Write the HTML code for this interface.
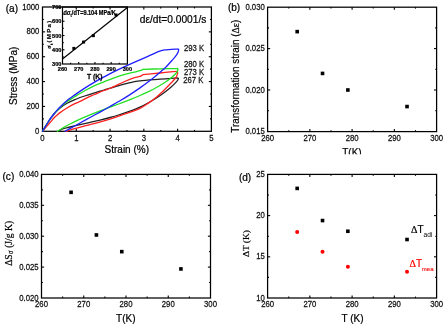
<!DOCTYPE html>
<html><head><meta charset="utf-8"><style>
html,body{margin:0;padding:0;background:#fff;}
body{width:445px;height:326px;overflow:hidden;}
svg{display:block;will-change:transform;}
</style></head><body>
<svg width="445" height="326" viewBox="0 0 445 326">
<rect width="445" height="326" fill="#fff"/>
<line x1="76.28" y1="131.30" x2="76.28" y2="128.70" stroke="#000" stroke-width="1.1"/>
<line x1="76.28" y1="7.00" x2="76.28" y2="9.60" stroke="#000" stroke-width="1.1"/>
<line x1="110.06" y1="131.30" x2="110.06" y2="128.70" stroke="#000" stroke-width="1.1"/>
<line x1="110.06" y1="7.00" x2="110.06" y2="9.60" stroke="#000" stroke-width="1.1"/>
<line x1="143.84" y1="131.30" x2="143.84" y2="128.70" stroke="#000" stroke-width="1.1"/>
<line x1="143.84" y1="7.00" x2="143.84" y2="9.60" stroke="#000" stroke-width="1.1"/>
<line x1="177.62" y1="131.30" x2="177.62" y2="128.70" stroke="#000" stroke-width="1.1"/>
<line x1="177.62" y1="7.00" x2="177.62" y2="9.60" stroke="#000" stroke-width="1.1"/>
<line x1="59.39" y1="131.30" x2="59.39" y2="129.90" stroke="#000" stroke-width="1.1"/>
<line x1="59.39" y1="7.00" x2="59.39" y2="8.40" stroke="#000" stroke-width="1.1"/>
<line x1="93.17" y1="131.30" x2="93.17" y2="129.90" stroke="#000" stroke-width="1.1"/>
<line x1="93.17" y1="7.00" x2="93.17" y2="8.40" stroke="#000" stroke-width="1.1"/>
<line x1="126.95" y1="131.30" x2="126.95" y2="129.90" stroke="#000" stroke-width="1.1"/>
<line x1="126.95" y1="7.00" x2="126.95" y2="8.40" stroke="#000" stroke-width="1.1"/>
<line x1="160.73" y1="131.30" x2="160.73" y2="129.90" stroke="#000" stroke-width="1.1"/>
<line x1="160.73" y1="7.00" x2="160.73" y2="8.40" stroke="#000" stroke-width="1.1"/>
<line x1="194.51" y1="131.30" x2="194.51" y2="129.90" stroke="#000" stroke-width="1.1"/>
<line x1="194.51" y1="7.00" x2="194.51" y2="8.40" stroke="#000" stroke-width="1.1"/>
<line x1="42.50" y1="106.44" x2="45.10" y2="106.44" stroke="#000" stroke-width="1.1"/>
<line x1="211.40" y1="106.44" x2="208.80" y2="106.44" stroke="#000" stroke-width="1.1"/>
<line x1="42.50" y1="81.58" x2="45.10" y2="81.58" stroke="#000" stroke-width="1.1"/>
<line x1="211.40" y1="81.58" x2="208.80" y2="81.58" stroke="#000" stroke-width="1.1"/>
<line x1="42.50" y1="56.72" x2="45.10" y2="56.72" stroke="#000" stroke-width="1.1"/>
<line x1="211.40" y1="56.72" x2="208.80" y2="56.72" stroke="#000" stroke-width="1.1"/>
<line x1="42.50" y1="31.86" x2="45.10" y2="31.86" stroke="#000" stroke-width="1.1"/>
<line x1="211.40" y1="31.86" x2="208.80" y2="31.86" stroke="#000" stroke-width="1.1"/>
<line x1="42.50" y1="118.87" x2="43.90" y2="118.87" stroke="#000" stroke-width="1.1"/>
<line x1="211.40" y1="118.87" x2="210.00" y2="118.87" stroke="#000" stroke-width="1.1"/>
<line x1="42.50" y1="94.01" x2="43.90" y2="94.01" stroke="#000" stroke-width="1.1"/>
<line x1="211.40" y1="94.01" x2="210.00" y2="94.01" stroke="#000" stroke-width="1.1"/>
<line x1="42.50" y1="69.15" x2="43.90" y2="69.15" stroke="#000" stroke-width="1.1"/>
<line x1="211.40" y1="69.15" x2="210.00" y2="69.15" stroke="#000" stroke-width="1.1"/>
<line x1="42.50" y1="44.29" x2="43.90" y2="44.29" stroke="#000" stroke-width="1.1"/>
<line x1="211.40" y1="44.29" x2="210.00" y2="44.29" stroke="#000" stroke-width="1.1"/>
<line x1="42.50" y1="19.43" x2="43.90" y2="19.43" stroke="#000" stroke-width="1.1"/>
<line x1="211.40" y1="19.43" x2="210.00" y2="19.43" stroke="#000" stroke-width="1.1"/>
<rect x="42.50" y="7.00" width="168.90" height="124.30" fill="none" stroke="#000" stroke-width="1.25"/>
<text transform="translate(42.50,141.00) scale(1.0,1.15)" font-size="7.75" text-anchor="middle" font-weight="normal" fill="#111" font-family='"Liberation Sans", sans-serif'  stroke="#111" stroke-width="0.22">0</text>
<text transform="translate(76.28,141.00) scale(1.0,1.15)" font-size="7.75" text-anchor="middle" font-weight="normal" fill="#111" font-family='"Liberation Sans", sans-serif'  stroke="#111" stroke-width="0.22">1</text>
<text transform="translate(110.06,141.00) scale(1.0,1.15)" font-size="7.75" text-anchor="middle" font-weight="normal" fill="#111" font-family='"Liberation Sans", sans-serif'  stroke="#111" stroke-width="0.22">2</text>
<text transform="translate(143.84,141.00) scale(1.0,1.15)" font-size="7.75" text-anchor="middle" font-weight="normal" fill="#111" font-family='"Liberation Sans", sans-serif'  stroke="#111" stroke-width="0.22">3</text>
<text transform="translate(177.62,141.00) scale(1.0,1.15)" font-size="7.75" text-anchor="middle" font-weight="normal" fill="#111" font-family='"Liberation Sans", sans-serif'  stroke="#111" stroke-width="0.22">4</text>
<text transform="translate(211.40,141.00) scale(1.0,1.15)" font-size="7.75" text-anchor="middle" font-weight="normal" fill="#111" font-family='"Liberation Sans", sans-serif'  stroke="#111" stroke-width="0.22">5</text>
<text transform="translate(39.40,133.80) scale(1.0,1.15)" font-size="7.75" text-anchor="end" font-weight="normal" fill="#111" font-family='"Liberation Sans", sans-serif'  stroke="#111" stroke-width="0.22">0</text>
<text transform="translate(39.40,108.94) scale(1.0,1.15)" font-size="7.75" text-anchor="end" font-weight="normal" fill="#111" font-family='"Liberation Sans", sans-serif'  stroke="#111" stroke-width="0.22">200</text>
<text transform="translate(39.40,84.08) scale(1.0,1.15)" font-size="7.75" text-anchor="end" font-weight="normal" fill="#111" font-family='"Liberation Sans", sans-serif'  stroke="#111" stroke-width="0.22">400</text>
<text transform="translate(39.40,59.22) scale(1.0,1.15)" font-size="7.75" text-anchor="end" font-weight="normal" fill="#111" font-family='"Liberation Sans", sans-serif'  stroke="#111" stroke-width="0.22">600</text>
<text transform="translate(39.40,34.36) scale(1.0,1.15)" font-size="7.75" text-anchor="end" font-weight="normal" fill="#111" font-family='"Liberation Sans", sans-serif'  stroke="#111" stroke-width="0.22">800</text>
<text transform="translate(39.40,9.50) scale(1.0,1.15)" font-size="7.75" text-anchor="end" font-weight="normal" fill="#111" font-family='"Liberation Sans", sans-serif'  stroke="#111" stroke-width="0.22">1000</text>
<text x="126.80" y="152.60" font-size="10" text-anchor="middle" font-weight="normal" fill="#000" font-family='"Liberation Sans", sans-serif'  stroke="#000" stroke-width="0.22">Strain (%)</text>
<text stroke="#000" stroke-width="0.2" transform="translate(16.9,75.8) rotate(-90)" x="0" y="0" font-size="10" text-anchor="middle" font-family='"Liberation Sans", sans-serif'>Stress (MPa)</text>
<text transform="translate(5.70,11.60) scale(1.0,1.08)" font-size="10.1" text-anchor="start" font-weight="normal" fill="#000" font-family='"Liberation Sans", sans-serif'  stroke="#000" stroke-width="0.22">(a)</text>
<text transform="translate(139.80,22.80) scale(1.0,1.12)" font-size="10.2" text-anchor="start" font-weight="normal" fill="#000" font-family='"Liberation Sans", sans-serif'  stroke="#000" stroke-width="0.22">d&#949;/dt=0.0001/s</text>
<text transform="translate(184.00,51.40) scale(1.0,1.18)" font-size="7.7" text-anchor="start" font-weight="normal" fill="#111" font-family='"Liberation Sans", sans-serif'  stroke="#111" stroke-width="0.22">293 K</text>
<text transform="translate(184.00,67.00) scale(1.0,1.18)" font-size="7.7" text-anchor="start" font-weight="normal" fill="#111" font-family='"Liberation Sans", sans-serif'  stroke="#111" stroke-width="0.22">280 K</text>
<text transform="translate(184.00,74.60) scale(1.0,1.18)" font-size="7.7" text-anchor="start" font-weight="normal" fill="#111" font-family='"Liberation Sans", sans-serif'  stroke="#111" stroke-width="0.22">273 K</text>
<text transform="translate(183.30,82.60) scale(1.0,1.18)" font-size="7.7" text-anchor="start" font-weight="normal" fill="#111" font-family='"Liberation Sans", sans-serif'  stroke="#111" stroke-width="0.22">267 K</text>
<path d="M42.50,131.30 C42.82,130.78 43.77,129.25 44.40,128.20 C45.03,127.15 45.62,126.12 46.30,125.00 C46.98,123.88 47.75,122.63 48.50,121.50 C49.25,120.37 49.77,119.58 50.80,118.20 C51.83,116.82 53.25,114.83 54.70,113.20 C56.15,111.57 57.45,110.05 59.50,108.40 C61.55,106.75 64.45,104.77 67.00,103.30 C69.55,101.83 71.85,100.82 74.80,99.60 C77.75,98.38 81.40,97.13 84.70,96.00 C88.00,94.87 91.38,93.80 94.60,92.80 C97.82,91.80 99.80,91.25 104.00,90.00 C108.20,88.75 115.47,86.53 119.80,85.30 C124.13,84.07 126.63,83.35 130.00,82.60 C133.37,81.85 135.00,81.37 140.00,80.80 C145.00,80.23 153.77,79.68 160.00,79.20 C166.23,78.72 174.50,78.12 177.40,77.90 M177.40,77.90 C177.57,78.07 178.68,78.12 178.40,78.90 C178.12,79.68 177.10,81.08 175.70,82.60 C174.30,84.12 171.95,86.32 170.00,88.00 C168.05,89.68 166.33,90.98 164.00,92.70 C161.67,94.42 158.67,96.58 156.00,98.30 C153.33,100.02 150.67,101.53 148.00,103.00 C145.33,104.47 143.00,105.73 140.00,107.10 C137.00,108.47 133.33,109.97 130.00,111.20 C126.67,112.43 123.33,113.45 120.00,114.50 C116.67,115.55 113.33,116.57 110.00,117.50 C106.67,118.43 103.33,119.28 100.00,120.10 C96.67,120.92 93.33,121.65 90.00,122.40 C86.67,123.15 83.33,123.83 80.00,124.60 C76.67,125.37 73.00,126.25 70.00,127.00 C67.00,127.75 63.88,128.38 62.00,129.10 C60.12,129.82 59.25,130.93 58.70,131.30" fill="none" stroke="#222" stroke-width="1.3" stroke-linejoin="round" stroke-linecap="round"/>
<path d="M42.50,131.30 C42.92,130.82 44.08,129.47 45.00,128.40 C45.92,127.33 47.02,126.03 48.00,124.90 C48.98,123.77 49.95,122.70 50.90,121.60 C51.85,120.50 52.72,119.35 53.70,118.30 C54.68,117.25 55.73,116.25 56.80,115.30 C57.87,114.35 58.40,113.82 60.10,112.60 C61.80,111.38 64.55,109.48 67.00,108.00 C69.45,106.52 72.53,104.83 74.80,103.70 C77.07,102.57 78.58,102.18 80.60,101.20 C82.62,100.22 84.57,98.92 86.90,97.80 C89.23,96.68 91.75,95.72 94.60,94.50 C97.45,93.28 101.28,91.58 104.00,90.50 C106.72,89.42 107.45,89.50 110.90,88.00 C114.35,86.50 121.02,83.13 124.70,81.50 C128.38,79.87 130.45,79.05 133.00,78.20 C135.55,77.35 138.33,77.00 140.00,76.40 C141.67,75.80 142.50,74.90 143.00,74.60 M143.00,74.60 C145.83,74.33 154.57,73.53 160.00,73.00 C165.43,72.47 173.00,71.67 175.60,71.40 M175.60,71.40 C175.93,71.53 177.47,71.28 177.60,72.20 C177.73,73.12 177.42,75.18 176.40,76.90 C175.38,78.62 173.57,80.28 171.50,82.50 C169.43,84.72 166.58,87.72 164.00,90.20 C161.42,92.68 158.67,95.20 156.00,97.40 C153.33,99.60 150.67,101.57 148.00,103.40 C145.33,105.23 142.83,106.98 140.00,108.40 C137.17,109.82 133.93,110.82 131.00,111.90 C128.07,112.98 125.40,113.87 122.40,114.90 C119.40,115.93 116.07,117.10 113.00,118.10 C109.93,119.10 107.17,119.97 104.00,120.90 C100.83,121.83 97.33,122.82 94.00,123.70 C90.67,124.58 87.03,125.42 84.00,126.20 C80.97,126.98 78.80,127.55 75.80,128.40 C72.80,129.25 67.63,130.82 66.00,131.30" fill="none" stroke="#ff2020" stroke-width="1.3" stroke-linejoin="round" stroke-linecap="round"/>
<path d="M42.50,131.30 C42.82,130.78 43.77,129.25 44.40,128.20 C45.03,127.15 45.62,126.12 46.30,125.00 C46.98,123.88 47.75,122.65 48.50,121.50 C49.25,120.35 49.77,119.50 50.80,118.10 C51.83,116.70 53.25,114.75 54.70,113.10 C56.15,111.45 57.45,110.12 59.50,108.20 C61.55,106.28 64.45,103.52 67.00,101.60 C69.55,99.68 71.85,98.50 74.80,96.70 C77.75,94.90 81.40,92.65 84.70,90.80 C88.00,88.95 91.38,87.10 94.60,85.60 C97.82,84.10 99.80,83.43 104.00,81.80 C108.20,80.17 114.97,77.37 119.80,75.80 C124.63,74.23 129.63,73.25 133.00,72.40 C136.37,71.55 138.33,71.22 140.00,70.70 C141.67,70.18 142.50,69.53 143.00,69.30 M143.00,69.30 C145.83,69.22 154.27,68.97 160.00,68.80 C165.73,68.63 174.50,68.38 177.40,68.30 M177.40,68.30 C177.50,68.50 178.27,68.63 178.00,69.50 C177.73,70.37 177.02,72.05 175.80,73.50 C174.58,74.95 172.67,76.62 170.70,78.20 C168.73,79.78 166.45,81.42 164.00,83.00 C161.55,84.58 158.67,86.23 156.00,87.70 C153.33,89.17 150.67,90.50 148.00,91.80 C145.33,93.10 143.00,94.18 140.00,95.50 C137.00,96.82 133.33,98.37 130.00,99.70 C126.67,101.03 123.33,102.25 120.00,103.50 C116.67,104.75 113.33,105.97 110.00,107.20 C106.67,108.43 103.33,109.63 100.00,110.90 C96.67,112.17 93.33,113.43 90.00,114.80 C86.67,116.17 83.33,117.57 80.00,119.10 C76.67,120.63 72.67,122.63 70.00,124.00 C67.33,125.37 65.67,126.35 64.00,127.30 C62.33,128.25 61.12,129.03 60.00,129.70 C58.88,130.37 57.75,131.03 57.30,131.30" fill="none" stroke="#22e022" stroke-width="1.3" stroke-linejoin="round" stroke-linecap="round"/>
<path d="M42.50,131.30 C42.82,130.78 43.77,129.25 44.40,128.20 C45.03,127.15 45.62,126.12 46.30,125.00 C46.98,123.88 47.75,122.67 48.50,121.50 C49.25,120.33 49.77,119.42 50.80,118.00 C51.83,116.58 53.28,114.70 54.70,113.00 C56.12,111.30 57.25,109.88 59.30,107.80 C61.35,105.72 64.68,102.47 67.00,100.50 C69.32,98.53 71.37,97.32 73.20,96.00 C75.03,94.68 76.08,93.92 78.00,92.60 C79.92,91.28 81.93,89.85 84.70,88.10 C87.47,86.35 91.38,83.97 94.60,82.10 C97.82,80.23 99.80,79.10 104.00,76.90 C108.20,74.70 113.80,71.75 119.80,68.90 C125.80,66.05 134.98,62.05 140.00,59.80 C145.02,57.55 146.77,56.80 149.90,55.40 C153.03,54.00 157.32,52.07 158.80,51.40 M158.80,51.40 C159.78,51.15 161.48,50.32 164.70,49.90 C167.92,49.48 175.87,49.07 178.10,48.90 M178.10,48.90 C178.20,49.15 178.95,49.40 178.70,50.40 C178.45,51.40 177.77,53.17 176.60,54.90 C175.43,56.63 173.47,58.78 171.70,60.80 C169.93,62.82 167.62,65.37 166.00,67.00 C164.38,68.63 163.67,69.13 162.00,70.60 C160.33,72.07 158.33,73.88 156.00,75.80 C153.67,77.72 150.67,80.08 148.00,82.10 C145.33,84.12 143.00,85.82 140.00,87.90 C137.00,89.98 133.33,92.45 130.00,94.60 C126.67,96.75 123.33,98.82 120.00,100.80 C116.67,102.78 113.33,104.62 110.00,106.50 C106.67,108.38 103.33,110.27 100.00,112.10 C96.67,113.93 93.33,115.68 90.00,117.50 C86.67,119.32 83.00,121.33 80.00,123.00 C77.00,124.67 74.50,126.12 72.00,127.50 C69.50,128.88 66.17,130.67 65.00,131.30" fill="none" stroke="#1f1fff" stroke-width="1.3" stroke-linejoin="round" stroke-linecap="round"/>
<line x1="78.72" y1="64.00" x2="78.72" y2="62.00" stroke="#000" stroke-width="1.1"/>
<line x1="94.95" y1="64.00" x2="94.95" y2="62.00" stroke="#000" stroke-width="1.1"/>
<line x1="111.18" y1="64.00" x2="111.18" y2="62.00" stroke="#000" stroke-width="1.1"/>
<line x1="70.61" y1="64.00" x2="70.61" y2="62.80" stroke="#000" stroke-width="1.1"/>
<line x1="86.84" y1="64.00" x2="86.84" y2="62.80" stroke="#000" stroke-width="1.1"/>
<line x1="103.06" y1="64.00" x2="103.06" y2="62.80" stroke="#000" stroke-width="1.1"/>
<line x1="119.29" y1="64.00" x2="119.29" y2="62.80" stroke="#000" stroke-width="1.1"/>
<line x1="62.50" y1="49.75" x2="64.50" y2="49.75" stroke="#000" stroke-width="1.1"/>
<line x1="62.50" y1="35.50" x2="64.50" y2="35.50" stroke="#000" stroke-width="1.1"/>
<line x1="62.50" y1="21.25" x2="64.50" y2="21.25" stroke="#000" stroke-width="1.1"/>
<line x1="62.50" y1="56.88" x2="63.70" y2="56.88" stroke="#000" stroke-width="1.1"/>
<line x1="62.50" y1="42.62" x2="63.70" y2="42.62" stroke="#000" stroke-width="1.1"/>
<line x1="62.50" y1="28.38" x2="63.70" y2="28.38" stroke="#000" stroke-width="1.1"/>
<line x1="62.50" y1="14.12" x2="63.70" y2="14.12" stroke="#000" stroke-width="1.1"/>
<rect x="62.50" y="7.00" width="64.90" height="57.00" fill="none" stroke="#000" stroke-width="1.2"/>
<text transform="translate(62.50,70.70) scale(1.0,1.1)" font-size="5.6" text-anchor="middle" font-weight="bold" fill="#000" font-family='"Liberation Sans", sans-serif'  stroke="#000" stroke-width="0.22">260</text>
<text transform="translate(78.72,70.70) scale(1.0,1.1)" font-size="5.6" text-anchor="middle" font-weight="bold" fill="#000" font-family='"Liberation Sans", sans-serif'  stroke="#000" stroke-width="0.22">270</text>
<text transform="translate(94.95,70.70) scale(1.0,1.1)" font-size="5.6" text-anchor="middle" font-weight="bold" fill="#000" font-family='"Liberation Sans", sans-serif'  stroke="#000" stroke-width="0.22">280</text>
<text transform="translate(111.18,70.70) scale(1.0,1.1)" font-size="5.6" text-anchor="middle" font-weight="bold" fill="#000" font-family='"Liberation Sans", sans-serif'  stroke="#000" stroke-width="0.22">290</text>
<text transform="translate(127.40,70.70) scale(1.0,1.1)" font-size="5.6" text-anchor="middle" font-weight="bold" fill="#000" font-family='"Liberation Sans", sans-serif'  stroke="#000" stroke-width="0.22">300</text>
<text transform="translate(61.40,66.20) scale(1.0,1.1)" font-size="5.6" text-anchor="end" font-weight="bold" fill="#000" font-family='"Liberation Sans", sans-serif'  stroke="#000" stroke-width="0.22">300</text>
<text transform="translate(61.40,51.95) scale(1.0,1.1)" font-size="5.6" text-anchor="end" font-weight="bold" fill="#000" font-family='"Liberation Sans", sans-serif'  stroke="#000" stroke-width="0.22">400</text>
<text transform="translate(61.40,37.70) scale(1.0,1.1)" font-size="5.6" text-anchor="end" font-weight="bold" fill="#000" font-family='"Liberation Sans", sans-serif'  stroke="#000" stroke-width="0.22">500</text>
<text transform="translate(61.40,23.45) scale(1.0,1.1)" font-size="5.6" text-anchor="end" font-weight="bold" fill="#000" font-family='"Liberation Sans", sans-serif'  stroke="#000" stroke-width="0.22">600</text>
<text transform="translate(61.40,9.20) scale(1.0,1.1)" font-size="5.6" text-anchor="end" font-weight="bold" fill="#000" font-family='"Liberation Sans", sans-serif'  stroke="#000" stroke-width="0.22">700</text>
<text transform="translate(94.80,78.50) scale(1.0,1.15)" font-size="6.8" text-anchor="middle" font-weight="bold" fill="#000" font-family='"Liberation Sans", sans-serif'  stroke="#000" stroke-width="0.22">T (K)</text>
<text stroke="#000" stroke-width="0.2" transform="translate(51.2,48.8) rotate(-90)" font-size="6.1" letter-spacing="1.3" font-weight="bold" font-family='"Liberation Sans", sans-serif'><tspan font-family='"Liberation Serif", serif' letter-spacing="0.5">&#963;</tspan><tspan font-size="4.2" dy="1.3" letter-spacing="0.2">t</tspan><tspan dy="-1.3" dx="0.9">(MPa)</tspan></text>
<text stroke="#000" stroke-width="0.2" transform="translate(63.4,15.3) scale(0.95,1.15)" font-size="5.85" font-weight="bold" font-family='"Liberation Sans", sans-serif'>d&#963;<tspan font-size="4" dy="1.5">t</tspan><tspan dy="-1.5">/dT=9.104 MPa/K</tspan></text>
<line x1="62.50" y1="59.00" x2="127.40" y2="7.50" stroke="#000" stroke-width="1.2"/>
<rect x="72.36" y="46.90" width="3.0" height="3.0" fill="#000"/>
<rect x="82.09" y="40.55" width="3.0" height="3.0" fill="#000"/>
<rect x="91.83" y="34.14" width="3.0" height="3.0" fill="#000"/>
<rect x="114.54" y="13.48" width="3.0" height="3.0" fill="#000"/>
<line x1="309.85" y1="131.60" x2="309.85" y2="129.00" stroke="#000" stroke-width="1.1"/>
<line x1="309.85" y1="7.20" x2="309.85" y2="9.80" stroke="#000" stroke-width="1.1"/>
<line x1="352.10" y1="131.60" x2="352.10" y2="129.00" stroke="#000" stroke-width="1.1"/>
<line x1="352.10" y1="7.20" x2="352.10" y2="9.80" stroke="#000" stroke-width="1.1"/>
<line x1="394.35" y1="131.60" x2="394.35" y2="129.00" stroke="#000" stroke-width="1.1"/>
<line x1="394.35" y1="7.20" x2="394.35" y2="9.80" stroke="#000" stroke-width="1.1"/>
<line x1="288.73" y1="131.60" x2="288.73" y2="130.20" stroke="#000" stroke-width="1.1"/>
<line x1="288.73" y1="7.20" x2="288.73" y2="8.60" stroke="#000" stroke-width="1.1"/>
<line x1="330.98" y1="131.60" x2="330.98" y2="130.20" stroke="#000" stroke-width="1.1"/>
<line x1="330.98" y1="7.20" x2="330.98" y2="8.60" stroke="#000" stroke-width="1.1"/>
<line x1="373.23" y1="131.60" x2="373.23" y2="130.20" stroke="#000" stroke-width="1.1"/>
<line x1="373.23" y1="7.20" x2="373.23" y2="8.60" stroke="#000" stroke-width="1.1"/>
<line x1="415.48" y1="131.60" x2="415.48" y2="130.20" stroke="#000" stroke-width="1.1"/>
<line x1="415.48" y1="7.20" x2="415.48" y2="8.60" stroke="#000" stroke-width="1.1"/>
<line x1="267.60" y1="90.00" x2="270.20" y2="90.00" stroke="#000" stroke-width="1.1"/>
<line x1="436.60" y1="90.00" x2="434.00" y2="90.00" stroke="#000" stroke-width="1.1"/>
<line x1="267.60" y1="48.60" x2="270.20" y2="48.60" stroke="#000" stroke-width="1.1"/>
<line x1="436.60" y1="48.60" x2="434.00" y2="48.60" stroke="#000" stroke-width="1.1"/>
<line x1="267.60" y1="110.70" x2="269.00" y2="110.70" stroke="#000" stroke-width="1.1"/>
<line x1="436.60" y1="110.70" x2="435.20" y2="110.70" stroke="#000" stroke-width="1.1"/>
<line x1="267.60" y1="69.30" x2="269.00" y2="69.30" stroke="#000" stroke-width="1.1"/>
<line x1="436.60" y1="69.30" x2="435.20" y2="69.30" stroke="#000" stroke-width="1.1"/>
<line x1="267.60" y1="27.90" x2="269.00" y2="27.90" stroke="#000" stroke-width="1.1"/>
<line x1="436.60" y1="27.90" x2="435.20" y2="27.90" stroke="#000" stroke-width="1.1"/>
<rect x="267.60" y="7.20" width="169.00" height="124.40" fill="none" stroke="#000" stroke-width="1.25"/>
<text transform="translate(267.60,140.90) scale(1.0,1.15)" font-size="7.75" text-anchor="middle" font-weight="normal" fill="#111" font-family='"Liberation Sans", sans-serif'  stroke="#111" stroke-width="0.22">260</text>
<text transform="translate(309.85,140.90) scale(1.0,1.15)" font-size="7.75" text-anchor="middle" font-weight="normal" fill="#111" font-family='"Liberation Sans", sans-serif'  stroke="#111" stroke-width="0.22">270</text>
<text transform="translate(352.10,140.90) scale(1.0,1.15)" font-size="7.75" text-anchor="middle" font-weight="normal" fill="#111" font-family='"Liberation Sans", sans-serif'  stroke="#111" stroke-width="0.22">280</text>
<text transform="translate(394.35,140.90) scale(1.0,1.15)" font-size="7.75" text-anchor="middle" font-weight="normal" fill="#111" font-family='"Liberation Sans", sans-serif'  stroke="#111" stroke-width="0.22">290</text>
<text transform="translate(436.60,140.90) scale(1.0,1.15)" font-size="7.75" text-anchor="middle" font-weight="normal" fill="#111" font-family='"Liberation Sans", sans-serif'  stroke="#111" stroke-width="0.22">300</text>
<text transform="translate(264.80,134.00) scale(1.0,1.15)" font-size="7.75" text-anchor="end" font-weight="normal" fill="#111" font-family='"Liberation Sans", sans-serif'  stroke="#111" stroke-width="0.22">0.015</text>
<text transform="translate(264.80,92.60) scale(1.0,1.15)" font-size="7.75" text-anchor="end" font-weight="normal" fill="#111" font-family='"Liberation Sans", sans-serif'  stroke="#111" stroke-width="0.22">0.020</text>
<text transform="translate(264.80,51.20) scale(1.0,1.15)" font-size="7.75" text-anchor="end" font-weight="normal" fill="#111" font-family='"Liberation Sans", sans-serif'  stroke="#111" stroke-width="0.22">0.025</text>
<text transform="translate(264.80,9.80) scale(1.0,1.15)" font-size="7.75" text-anchor="end" font-weight="normal" fill="#111" font-family='"Liberation Sans", sans-serif'  stroke="#111" stroke-width="0.22">0.030</text>
<text transform="translate(227.90,11.30) scale(1.0,1.08)" font-size="10.1" text-anchor="start" font-weight="normal" fill="#000" font-family='"Liberation Sans", sans-serif'  stroke="#000" stroke-width="0.22">(b)</text>
<text stroke="#000" stroke-width="0.2" transform="translate(239.0,76.2) rotate(-90) scale(1,1.12)" font-size="9.9" text-anchor="middle" font-family='"Liberation Sans", sans-serif'>Transformation strain (<tspan font-family='"Liberation Serif", serif'>&#916;&#949;</tspan>)</text>
<rect x="295.38" y="29.83" width="3.6" height="3.6" fill="#000"/>
<rect x="320.73" y="71.64" width="3.6" height="3.6" fill="#000"/>
<rect x="346.07" y="88.20" width="3.6" height="3.6" fill="#000"/>
<rect x="405.23" y="104.76" width="3.6" height="3.6" fill="#000"/>
<clipPath id="cb"><rect x="300" y="140" width="100" height="14.2"/></clipPath>
<text stroke="#000" stroke-width="0.2" clip-path="url(#cb)" x="352" y="156.2" font-size="10" text-anchor="middle" font-family='"Liberation Sans", sans-serif'>T(K)</text>
<line x1="83.75" y1="298.00" x2="83.75" y2="295.40" stroke="#000" stroke-width="1.1"/>
<line x1="83.75" y1="174.40" x2="83.75" y2="177.00" stroke="#000" stroke-width="1.1"/>
<line x1="126.00" y1="298.00" x2="126.00" y2="295.40" stroke="#000" stroke-width="1.1"/>
<line x1="126.00" y1="174.40" x2="126.00" y2="177.00" stroke="#000" stroke-width="1.1"/>
<line x1="168.25" y1="298.00" x2="168.25" y2="295.40" stroke="#000" stroke-width="1.1"/>
<line x1="168.25" y1="174.40" x2="168.25" y2="177.00" stroke="#000" stroke-width="1.1"/>
<line x1="62.62" y1="298.00" x2="62.62" y2="296.60" stroke="#000" stroke-width="1.1"/>
<line x1="62.62" y1="174.40" x2="62.62" y2="175.80" stroke="#000" stroke-width="1.1"/>
<line x1="104.88" y1="298.00" x2="104.88" y2="296.60" stroke="#000" stroke-width="1.1"/>
<line x1="104.88" y1="174.40" x2="104.88" y2="175.80" stroke="#000" stroke-width="1.1"/>
<line x1="147.12" y1="298.00" x2="147.12" y2="296.60" stroke="#000" stroke-width="1.1"/>
<line x1="147.12" y1="174.40" x2="147.12" y2="175.80" stroke="#000" stroke-width="1.1"/>
<line x1="189.38" y1="298.00" x2="189.38" y2="296.60" stroke="#000" stroke-width="1.1"/>
<line x1="189.38" y1="174.40" x2="189.38" y2="175.80" stroke="#000" stroke-width="1.1"/>
<line x1="41.50" y1="267.10" x2="44.10" y2="267.10" stroke="#000" stroke-width="1.1"/>
<line x1="210.50" y1="267.10" x2="207.90" y2="267.10" stroke="#000" stroke-width="1.1"/>
<line x1="41.50" y1="236.20" x2="44.10" y2="236.20" stroke="#000" stroke-width="1.1"/>
<line x1="210.50" y1="236.20" x2="207.90" y2="236.20" stroke="#000" stroke-width="1.1"/>
<line x1="41.50" y1="205.30" x2="44.10" y2="205.30" stroke="#000" stroke-width="1.1"/>
<line x1="210.50" y1="205.30" x2="207.90" y2="205.30" stroke="#000" stroke-width="1.1"/>
<line x1="41.50" y1="282.55" x2="42.90" y2="282.55" stroke="#000" stroke-width="1.1"/>
<line x1="210.50" y1="282.55" x2="209.10" y2="282.55" stroke="#000" stroke-width="1.1"/>
<line x1="41.50" y1="251.65" x2="42.90" y2="251.65" stroke="#000" stroke-width="1.1"/>
<line x1="210.50" y1="251.65" x2="209.10" y2="251.65" stroke="#000" stroke-width="1.1"/>
<line x1="41.50" y1="220.75" x2="42.90" y2="220.75" stroke="#000" stroke-width="1.1"/>
<line x1="210.50" y1="220.75" x2="209.10" y2="220.75" stroke="#000" stroke-width="1.1"/>
<line x1="41.50" y1="189.85" x2="42.90" y2="189.85" stroke="#000" stroke-width="1.1"/>
<line x1="210.50" y1="189.85" x2="209.10" y2="189.85" stroke="#000" stroke-width="1.1"/>
<rect x="41.50" y="174.40" width="169.00" height="123.60" fill="none" stroke="#000" stroke-width="1.25"/>
<text transform="translate(41.50,307.40) scale(1.0,1.15)" font-size="7.75" text-anchor="middle" font-weight="normal" fill="#111" font-family='"Liberation Sans", sans-serif'  stroke="#111" stroke-width="0.22">260</text>
<text transform="translate(83.75,307.40) scale(1.0,1.15)" font-size="7.75" text-anchor="middle" font-weight="normal" fill="#111" font-family='"Liberation Sans", sans-serif'  stroke="#111" stroke-width="0.22">270</text>
<text transform="translate(126.00,307.40) scale(1.0,1.15)" font-size="7.75" text-anchor="middle" font-weight="normal" fill="#111" font-family='"Liberation Sans", sans-serif'  stroke="#111" stroke-width="0.22">280</text>
<text transform="translate(168.25,307.40) scale(1.0,1.15)" font-size="7.75" text-anchor="middle" font-weight="normal" fill="#111" font-family='"Liberation Sans", sans-serif'  stroke="#111" stroke-width="0.22">290</text>
<text transform="translate(210.50,307.40) scale(1.0,1.15)" font-size="7.75" text-anchor="middle" font-weight="normal" fill="#111" font-family='"Liberation Sans", sans-serif'  stroke="#111" stroke-width="0.22">300</text>
<text transform="translate(38.60,300.60) scale(1.0,1.15)" font-size="7.75" text-anchor="end" font-weight="normal" fill="#111" font-family='"Liberation Sans", sans-serif'  stroke="#111" stroke-width="0.22">0.020</text>
<text transform="translate(38.60,269.70) scale(1.0,1.15)" font-size="7.75" text-anchor="end" font-weight="normal" fill="#111" font-family='"Liberation Sans", sans-serif'  stroke="#111" stroke-width="0.22">0.025</text>
<text transform="translate(38.60,238.80) scale(1.0,1.15)" font-size="7.75" text-anchor="end" font-weight="normal" fill="#111" font-family='"Liberation Sans", sans-serif'  stroke="#111" stroke-width="0.22">0.030</text>
<text transform="translate(38.60,207.90) scale(1.0,1.15)" font-size="7.75" text-anchor="end" font-weight="normal" fill="#111" font-family='"Liberation Sans", sans-serif'  stroke="#111" stroke-width="0.22">0.035</text>
<text transform="translate(38.60,177.00) scale(1.0,1.15)" font-size="7.75" text-anchor="end" font-weight="normal" fill="#111" font-family='"Liberation Sans", sans-serif'  stroke="#111" stroke-width="0.22">0.040</text>
<text transform="translate(2.50,179.50) scale(1.0,1.08)" font-size="10.1" text-anchor="start" font-weight="normal" fill="#000" font-family='"Liberation Sans", sans-serif'  stroke="#000" stroke-width="0.22">(c)</text>
<text x="125.80" y="322.00" font-size="10" text-anchor="middle" font-weight="normal" fill="#000" font-family='"Liberation Sans", sans-serif'  stroke="#000" stroke-width="0.22">T(K)</text>
<text stroke="#000" stroke-width="0.2" transform="translate(11.6,243.4) rotate(-90) scale(1,1.15)" font-size="9.6" text-anchor="middle" font-family='"Liberation Serif", serif'>&#916;S<tspan font-size="6.4" dy="1.6" dx="0.4">&#963;</tspan><tspan dy="-1.6" dx="0.3"> (J/g K)</tspan></text>
<rect x="69.28" y="190.52" width="3.6" height="3.6" fill="#000"/>
<rect x="94.62" y="233.16" width="3.6" height="3.6" fill="#000"/>
<rect x="119.98" y="249.85" width="3.6" height="3.6" fill="#000"/>
<rect x="179.12" y="267.15" width="3.6" height="3.6" fill="#000"/>
<line x1="309.85" y1="298.00" x2="309.85" y2="295.40" stroke="#000" stroke-width="1.1"/>
<line x1="309.85" y1="174.40" x2="309.85" y2="177.00" stroke="#000" stroke-width="1.1"/>
<line x1="352.10" y1="298.00" x2="352.10" y2="295.40" stroke="#000" stroke-width="1.1"/>
<line x1="352.10" y1="174.40" x2="352.10" y2="177.00" stroke="#000" stroke-width="1.1"/>
<line x1="394.35" y1="298.00" x2="394.35" y2="295.40" stroke="#000" stroke-width="1.1"/>
<line x1="394.35" y1="174.40" x2="394.35" y2="177.00" stroke="#000" stroke-width="1.1"/>
<line x1="288.73" y1="298.00" x2="288.73" y2="296.60" stroke="#000" stroke-width="1.1"/>
<line x1="288.73" y1="174.40" x2="288.73" y2="175.80" stroke="#000" stroke-width="1.1"/>
<line x1="330.98" y1="298.00" x2="330.98" y2="296.60" stroke="#000" stroke-width="1.1"/>
<line x1="330.98" y1="174.40" x2="330.98" y2="175.80" stroke="#000" stroke-width="1.1"/>
<line x1="373.23" y1="298.00" x2="373.23" y2="296.60" stroke="#000" stroke-width="1.1"/>
<line x1="373.23" y1="174.40" x2="373.23" y2="175.80" stroke="#000" stroke-width="1.1"/>
<line x1="415.48" y1="298.00" x2="415.48" y2="296.60" stroke="#000" stroke-width="1.1"/>
<line x1="415.48" y1="174.40" x2="415.48" y2="175.80" stroke="#000" stroke-width="1.1"/>
<line x1="267.60" y1="256.80" x2="270.20" y2="256.80" stroke="#000" stroke-width="1.1"/>
<line x1="436.60" y1="256.80" x2="434.00" y2="256.80" stroke="#000" stroke-width="1.1"/>
<line x1="267.60" y1="215.60" x2="270.20" y2="215.60" stroke="#000" stroke-width="1.1"/>
<line x1="436.60" y1="215.60" x2="434.00" y2="215.60" stroke="#000" stroke-width="1.1"/>
<line x1="267.60" y1="277.40" x2="269.00" y2="277.40" stroke="#000" stroke-width="1.1"/>
<line x1="436.60" y1="277.40" x2="435.20" y2="277.40" stroke="#000" stroke-width="1.1"/>
<line x1="267.60" y1="236.20" x2="269.00" y2="236.20" stroke="#000" stroke-width="1.1"/>
<line x1="436.60" y1="236.20" x2="435.20" y2="236.20" stroke="#000" stroke-width="1.1"/>
<line x1="267.60" y1="195.00" x2="269.00" y2="195.00" stroke="#000" stroke-width="1.1"/>
<line x1="436.60" y1="195.00" x2="435.20" y2="195.00" stroke="#000" stroke-width="1.1"/>
<rect x="267.60" y="174.40" width="169.00" height="123.60" fill="none" stroke="#000" stroke-width="1.25"/>
<text transform="translate(267.60,307.40) scale(1.0,1.15)" font-size="7.75" text-anchor="middle" font-weight="normal" fill="#111" font-family='"Liberation Sans", sans-serif'  stroke="#111" stroke-width="0.22">260</text>
<text transform="translate(309.85,307.40) scale(1.0,1.15)" font-size="7.75" text-anchor="middle" font-weight="normal" fill="#111" font-family='"Liberation Sans", sans-serif'  stroke="#111" stroke-width="0.22">270</text>
<text transform="translate(352.10,307.40) scale(1.0,1.15)" font-size="7.75" text-anchor="middle" font-weight="normal" fill="#111" font-family='"Liberation Sans", sans-serif'  stroke="#111" stroke-width="0.22">280</text>
<text transform="translate(394.35,307.40) scale(1.0,1.15)" font-size="7.75" text-anchor="middle" font-weight="normal" fill="#111" font-family='"Liberation Sans", sans-serif'  stroke="#111" stroke-width="0.22">290</text>
<text transform="translate(436.60,307.40) scale(1.0,1.15)" font-size="7.75" text-anchor="middle" font-weight="normal" fill="#111" font-family='"Liberation Sans", sans-serif'  stroke="#111" stroke-width="0.22">300</text>
<text transform="translate(264.80,300.60) scale(1.0,1.15)" font-size="7.75" text-anchor="end" font-weight="normal" fill="#111" font-family='"Liberation Sans", sans-serif'  stroke="#111" stroke-width="0.22">10</text>
<text transform="translate(264.80,259.40) scale(1.0,1.15)" font-size="7.75" text-anchor="end" font-weight="normal" fill="#111" font-family='"Liberation Sans", sans-serif'  stroke="#111" stroke-width="0.22">15</text>
<text transform="translate(264.80,218.20) scale(1.0,1.15)" font-size="7.75" text-anchor="end" font-weight="normal" fill="#111" font-family='"Liberation Sans", sans-serif'  stroke="#111" stroke-width="0.22">20</text>
<text transform="translate(264.80,177.00) scale(1.0,1.15)" font-size="7.75" text-anchor="end" font-weight="normal" fill="#111" font-family='"Liberation Sans", sans-serif'  stroke="#111" stroke-width="0.22">25</text>
<text transform="translate(238.90,180.60) scale(1.0,1.08)" font-size="10.1" text-anchor="start" font-weight="normal" fill="#000" font-family='"Liberation Sans", sans-serif'  stroke="#000" stroke-width="0.22">(d)</text>
<text x="352.50" y="322.00" font-size="10" text-anchor="middle" font-weight="normal" fill="#000" font-family='"Liberation Sans", sans-serif'  stroke="#000" stroke-width="0.22">T (K)</text>
<text stroke="#000" stroke-width="0.2" transform="translate(249.3,243.6) rotate(-90) scale(1,0.88)" font-size="9.4" text-anchor="middle" font-family='"Liberation Serif", serif'>&#916;T (K)</text>
<rect x="295.38" y="186.61" width="3.6" height="3.6" fill="#000"/>
<rect x="320.73" y="218.74" width="3.6" height="3.6" fill="#000"/>
<rect x="346.07" y="229.46" width="3.6" height="3.6" fill="#000"/>
<rect x="405.23" y="237.70" width="3.6" height="3.6" fill="#000"/>
<circle cx="297.18" cy="232.08" r="2.0" fill="#f00"/>
<circle cx="322.53" cy="251.86" r="2.0" fill="#f00"/>
<circle cx="347.88" cy="266.69" r="2.0" fill="#f00"/>
<circle cx="407.03" cy="271.63" r="2.0" fill="#f00"/>
<text stroke="#000" stroke-width="0.2" x="411" y="233" font-size="10" font-family='"Liberation Sans", sans-serif'><tspan font-family='"Liberation Serif", serif'>&#916;</tspan>T<tspan font-size="6.6" dy="4.3" stroke-width="0">adi</tspan></text>
<text stroke="#f00" stroke-width="0.2" x="409.6" y="267" font-size="10" fill="#f00" font-family='"Liberation Sans", sans-serif'><tspan font-family='"Liberation Serif", serif'>&#916;</tspan>T<tspan font-size="6.0" dy="3.9" dx="-0.3" stroke-width="0.1">mea</tspan></text>
</svg>
</body></html>
